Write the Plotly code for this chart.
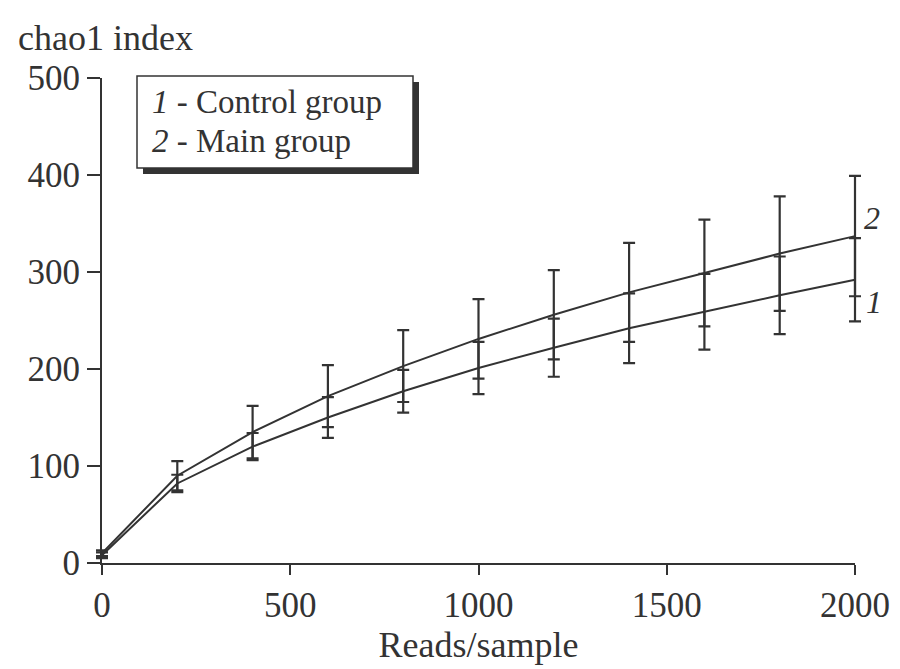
import plotly.graph_objects as go

reads = [0, 200, 400, 600, 800, 1000, 1200, 1400, 1600, 1800, 2000]
control_mean = [8, 82, 120, 150, 177, 201, 222, 242, 259, 276, 292]
control_err = [3, 9, 14, 21, 22, 27, 30, 36, 39, 40, 43]
main_mean = [10, 90, 135, 172, 203, 231, 256, 279, 299, 319, 337]
main_err = [3, 15, 27, 32, 37, 41, 46, 51, 55, 59, 62]

y_ticks = [0, 100, 200, 300, 400, 500]
x_ticks = [0, 500, 1000, 1500, 2000]

FONT = "Liberation Serif"
INK = "#333333"

# page layout: plot area (paper) spans 74..867 px (page), visible x axis 94..847
L, R = 74, 33
AREA_W = 900 - L - R
PAD = 20
AX_W = AREA_W - 2 * PAD
ext = PAD * (x_ticks[-1] - x_ticks[0]) / AX_W

fig = go.Figure()
for mean, err, name in [(control_mean, control_err, "1 - Control group"),
                        (main_mean, main_err, "2 - Main group")]:
    fig.add_trace(go.Scatter(
        x=reads, y=mean, name=name, mode="lines", xaxis="x2", yaxis="y",
        line=dict(color=INK, width=2),
        error_y=dict(type="data", array=err, visible=True,
                     color=INK, thickness=2.2, width=6),
        showlegend=False,
    ))

# curve end labels
fig.add_annotation(x=reads[-1], y=main_mean[-1], xref="x", yref="y", text="<i>2</i>",
                   showarrow=False, xanchor="left", yanchor="bottom", xshift=7, yshift=-2,
                   font=dict(family=FONT, size=32, color=INK))
fig.add_annotation(x=reads[-1], y=control_mean[-1], xref="x", yref="y", text="<i>1</i>",
                   showarrow=False, xanchor="left", yanchor="top", xshift=9, yshift=-2,
                   font=dict(family=FONT, size=32, color=INK))

# reference-pixel -> paper helpers (page offset of 8 px)
def px(x):
    return (x - 8 - L) / AREA_W
def py(y):
    return (563 - y) / 485.0

# legend box with shadow
fig.add_shape(type="rect", xref="paper", yref="paper",
              x0=px(143), x1=px(419), y0=py(174), y1=py(82),
              fillcolor="#333333", line=dict(width=0), layer="above")
fig.add_shape(type="rect", xref="paper", yref="paper",
              x0=px(137), x1=px(413), y0=py(168), y1=py(76),
              fillcolor="white", line=dict(color=INK, width=1.5), layer="above")
fig.add_annotation(xref="paper", yref="paper", x=px(150), y=py(102),
                   text="<i>1</i> - Control group",
                   showarrow=False, xanchor="left", yanchor="middle", align="left",
                   font=dict(family=FONT, size=33, color=INK))
fig.add_annotation(xref="paper", yref="paper", x=px(150), y=py(141),
                   text="<i>2</i> - Main group",
                   showarrow=False, xanchor="left", yanchor="middle", align="left",
                   font=dict(family=FONT, size=33, color=INK))

# y axis title
fig.add_annotation(xref="paper", yref="paper", x=px(16), y=py(38),
                   text="chao1 index", showarrow=False, xanchor="left", yanchor="middle",
                   font=dict(family=FONT, size=36, color=INK))

fig.update_layout(
    width=900, height=669,
    margin=dict(l=L, r=R, t=70, b=114, autoexpand=False),
    paper_bgcolor="white", plot_bgcolor="rgba(0,0,0,0)",
    font=dict(family=FONT, size=35, color=INK),
    xaxis=dict(domain=[PAD / AREA_W, 1 - PAD / AREA_W], automargin=False,
               range=[x_ticks[0], x_ticks[-1]], tickvals=x_ticks, ticks="outside", ticklen=10,
               tickwidth=2, tickcolor=INK, showline=True, linecolor=INK, linewidth=2,
               showgrid=False, zeroline=False,
               title=dict(text="Reads/sample", font=dict(family=FONT, size=36), standoff=2)),
    xaxis2=dict(domain=[0, 1], anchor="y", visible=False, automargin=False,
                showgrid=False, zeroline=False,
                range=[x_ticks[0] - ext, x_ticks[-1] + ext]),
    yaxis=dict(range=[0, 500], tickvals=y_ticks, ticks="outside", ticklen=13,
               tickwidth=2, tickcolor=INK, showline=True, linecolor=INK, linewidth=2,
               showgrid=False, zeroline=False, anchor="x", automargin=False),
)

fig.write_html("out.html")
